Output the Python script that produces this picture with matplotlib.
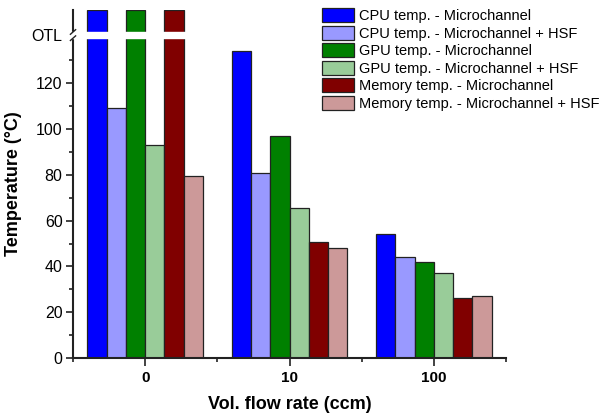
import numpy as np
import matplotlib.pyplot as plt
from matplotlib.ticker import FixedLocator

plt.rcParams['font.family'] = ['Liberation Sans', 'DejaVu Sans']

# data
flow_rates = ['0', '10', '100']
OTL = 152  # over temperature limit, drawn to top of axis
cpu_mc = [OTL, 134, 54]
cpu_hsf = [109, 81, 44]
gpu_mc = [OTL, 97, 42]
gpu_hsf = [93, 65.5, 37]
mem_mc = [OTL, 50.5, 26]
mem_hsf = [79.5, 48, 27]

series = [
    (cpu_mc, 'CPU temp. - Microchannel', '#0000ff'),
    (cpu_hsf, 'CPU temp. - Microchannel + HSF', '#9999ff'),
    (gpu_mc, 'GPU temp. - Microchannel', '#008000'),
    (gpu_hsf, 'GPU temp. - Microchannel + HSF', '#99cc99'),
    (mem_mc, 'Memory temp. - Microchannel', '#800000'),
    (mem_hsf, 'Memory temp. - Microchannel + HSF', '#cc9999'),
]

fig = plt.figure(figsize=(6.11, 4.17), dpi=100)
ax = fig.add_axes([0.1195, 0.1415, 0.7087, 0.8345])

x = np.arange(len(flow_rates))
w = 0.8 / len(series)
for i, (vals, label, color) in enumerate(series):
    ax.bar(x + (i - 2.5) * w, vals, w, color=color, edgecolor='#222222',
           linewidth=0.9, label=label, zorder=2)

ax.set_xlim(-0.5, 2.5)
ax.set_ylim(0, 152)

# axis break
brk_lo, brk_hi = 139.7, 142.4
ax.axhspan(brk_lo, brk_hi, xmin=-0.01, xmax=0.5, color='white', zorder=4, clip_on=False)
tr = ax.get_yaxis_transform()
for yb in (brk_lo, brk_hi):
    ax.plot([-0.006, 0.006], [yb - 1.0, yb + 1.0], color='#222222', lw=1.0,
            transform=tr, clip_on=False, zorder=5)

# y ticks
yt = [0, 20, 40, 60, 80, 100, 120, 141]
ax.set_yticks(yt)
ax.set_yticklabels([str(v) for v in yt[:-1]] + ['OTL'], fontsize=11.5)
ax.yaxis.get_major_ticks()[-1].tick1line.set_visible(False)
ax.yaxis.set_minor_locator(FixedLocator([10, 30, 50, 70, 90, 110, 130]))

# x ticks
ax.set_xticks(x)
ax.set_xticklabels(flow_rates, fontsize=11, fontweight='bold')
ax.xaxis.set_minor_locator(FixedLocator([-0.5, 0.5, 1.5, 2.5]))

ax.tick_params(axis='both', which='major', direction='out', length=5, width=1.2, color='#222222')
ax.tick_params(axis='both', which='minor', direction='out', length=3, width=1.2, color='#222222')
ax.tick_params(axis='x', which='major', length=6)
ax.tick_params(axis='y', which='major', pad=2.5)

for s in ['top', 'right']:
    ax.spines[s].set_visible(False)
for s in ['left', 'bottom']:
    ax.spines[s].set_linewidth(1.5)
    ax.spines[s].set_color('#222222')

ax.set_ylabel('Temperature (°C)', fontsize=13, fontweight='bold', labelpad=7)
ax.set_xlabel('Vol. flow rate (ccm)', fontsize=13, fontweight='bold', labelpad=8)

ax.legend(loc='upper left', bbox_to_anchor=(322 / 611, 1 - 8 / 417),
          bbox_transform=fig.transFigure, frameon=False, fontsize=10.5,
          borderpad=0, borderaxespad=0, handlelength=2.2, handleheight=1.1,
          labelspacing=0.18, handletextpad=0.35)

plt.savefig('out.png', dpi=100)
